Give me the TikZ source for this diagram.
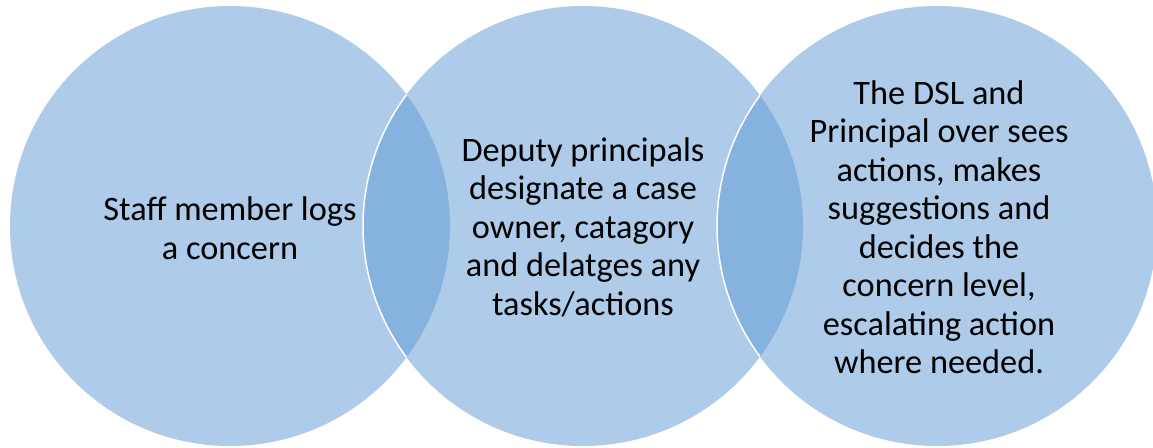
\documentclass[tikz,border=0pt]{standalone}
\usepackage{fontspec}
\setmainfont{Carlito}
\definecolor{circfill}{HTML}{AECBE9}
\definecolor{lensfill}{HTML}{86B2DF}
\begin{document}
\begin{tikzpicture}[x=1pt,y=-1pt,
  lbl/.style={align=center,font=\fontsize{34.3}{38.5}\selectfont,text=black,inner sep=0pt}]
\useasboundingbox (0,0) rectangle (1153,447);
\fill[white] (0,0) rectangle (1153,447);
\coordinate (c1) at (230,226);
\coordinate (c2) at (583,226);
\coordinate (c3) at (937,226);
\def\rr{220}
\fill[circfill] (c1) circle (\rr);
\fill[circfill] (c2) circle (\rr);
\fill[circfill] (c3) circle (\rr);
\begin{scope}
  \clip (c1) circle (\rr);
  \fill[lensfill] (c2) circle (\rr);
\end{scope}
\begin{scope}
  \clip (c2) circle (\rr);
  \fill[lensfill] (c3) circle (\rr);
\end{scope}
\begin{scope}
  \clip (c1) circle (\rr);
  \draw[white,line width=1.5pt] (c2) circle (\rr);
\end{scope}
\begin{scope}
  \clip (c2) circle (\rr);
  \draw[white,line width=1.5pt] (c3) circle (\rr);
\end{scope}
\node[lbl] (t1) at (230,228) {Staff member logs\\a concern};
\node[lbl] (t2) at (583,227) {Deputy principals\\designate a case\\owner, catagory\\and delatges any\\tasks/actions};
\node[lbl] (t3) at (939,227) {The DSL and\\Principal over sees\\actions, makes\\suggestions and\\decides the\\concern level,\\escalating action\\where needed.};
\end{tikzpicture}
\end{document}
